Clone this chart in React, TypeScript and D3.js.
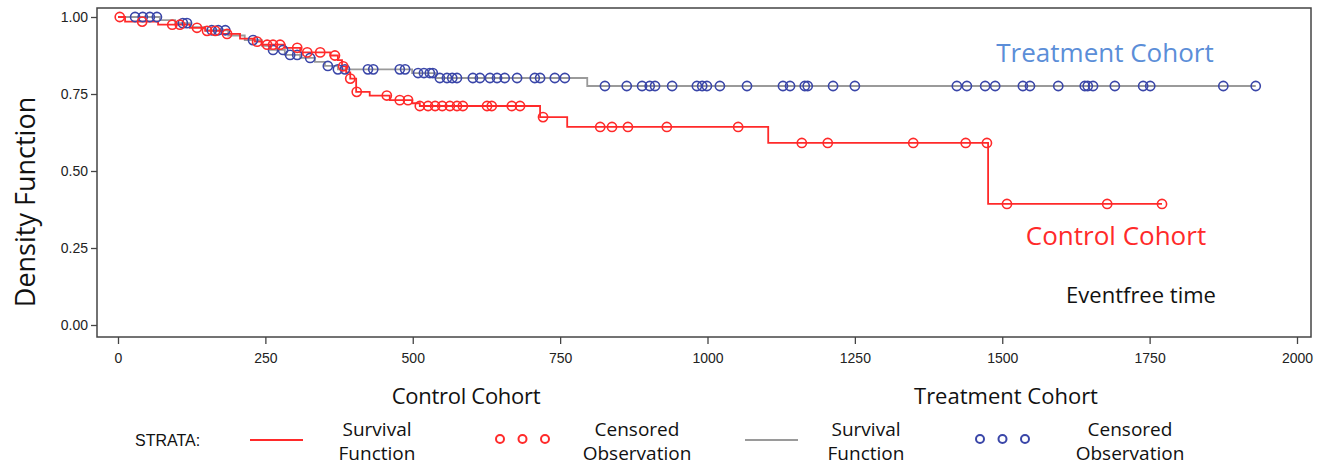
import React, { useEffect, useRef } from 'react';
import * as d3 from 'd3';

// Kaplan-Meier step points: [time, survival after the event]
const controlSteps: [number, number][] = [
  [0, 1.0], [12, 0.985], [68, 0.975], [122, 0.965], [148, 0.955], [176, 0.945],
  [207, 0.93], [232, 0.92], [244, 0.91], [283, 0.9], [309, 0.885], [360, 0.875],
  [373, 0.86], [380, 0.84], [387, 0.82], [394, 0.8], [404, 0.757], [427, 0.745],
  [461, 0.73], [499, 0.72], [512, 0.711], [716, 0.675], [762, 0.643],
  [1103, 0.591], [1476, 0.393],
];
const controlEnd = 1771;
const controlCensored = [
  3, 41, 92, 105, 134, 151, 165, 185, 236, 253, 263, 275, 304, 321, 343, 368, 382,
  394, 405, 456, 478, 492, 512, 526, 538, 550, 563, 575, 585, 626, 634, 668, 682,
  721, 818, 838, 865, 931, 1052, 1160, 1204, 1349, 1438, 1474, 1508, 1678, 1771,
];

const treatmentSteps: [number, number][] = [
  [0, 1.0], [71, 0.99], [97, 0.98], [122, 0.967], [148, 0.957], [187, 0.94],
  [215, 0.925], [244, 0.906], [258, 0.893], [283, 0.877], [309, 0.867],
  [334, 0.854], [351, 0.841], [373, 0.83], [499, 0.818], [539, 0.802], [796, 0.776],
];
const treatmentEnd = 1930;
const treatmentCensored = [
  29, 42, 54, 66, 110, 117, 159, 170, 182, 229, 263, 280, 292, 304, 326, 356, 373,
  385, 424, 433, 478, 487, 509, 519, 529, 534, 546, 558, 567, 575, 602, 614, 631,
  643, 656, 677, 707, 716, 741, 758, 826, 863, 889, 902, 911, 940, 982, 991, 999,
  1021, 1067, 1128, 1140, 1165, 1170, 1213, 1250, 1423, 1440, 1471, 1488, 1535,
  1547, 1595, 1640, 1645, 1654, 1691, 1739, 1751, 1875, 1930,
];

const xTicks = [0, 250, 500, 750, 1000, 1250, 1500, 1750, 2000];
const yTicks = [0, 0.25, 0.5, 0.75, 1.0];

const RED = '#ff2a2a';
const GRAY = '#9a9a9a';
const BLUE = '#3a46a8';
const LABEL_BLUE = '#5b8ed8';

function survivalAt(steps: [number, number][], t: number) {
  let s = steps[0][1];
  for (const [time, v] of steps) {
    if (time <= t) s = v;
  }
  return s;
}

function App() {
  const ref = useRef<SVGSVGElement>(null);

  useEffect(() => {
    const svg = d3.select(ref.current);
    svg.selectAll('*').remove();
    const width = 1325;
    const height = 467;
    const frame = { left: 97, right: 1311, top: 8, bottom: 337 };

    const x = d3.scaleLinear().domain([0, 2000]).range([118, 1297]);
    const y = d3.scaleLinear().domain([0, 1]).range([325, 17]);

    svg.append('rect').attr('width', width).attr('height', height).attr('fill', '#fff');

    // frame
    svg
      .append('rect')
      .attr('x', frame.left)
      .attr('y', frame.top)
      .attr('width', frame.right - frame.left)
      .attr('height', frame.bottom - frame.top)
      .attr('fill', 'none')
      .attr('stroke', '#444')
      .attr('stroke-width', 1.5);

    const tickFont = "'Liberation Sans Narrow', 'Liberation Sans', Arial, sans-serif";

    // y axis
    svg
      .append('g')
      .attr('transform', `translate(${frame.left},0)`)
      .call(
        d3
          .axisLeft(y)
          .tickValues(yTicks)
          .tickSize(6)
          .tickSizeOuter(0)
          .tickFormat(d3.format('.2f')),
      )
      .call(g => g.select('.domain').remove())
      .call(g => g.selectAll('line').attr('stroke', '#444').attr('stroke-width', 1.3))
      .call(g =>
        g
          .selectAll('text')
          .attr('font-family', tickFont)
          .attr('font-size', 14)
          .attr('fill', '#222'),
      );

    // x axis
    svg
      .append('g')
      .attr('transform', `translate(0,${frame.bottom})`)
      .call(
        d3
          .axisBottom(x)
          .tickValues(xTicks)
          .tickSize(7)
          .tickSizeOuter(0)
          .tickPadding(9)
          .tickFormat(d3.format('d')),
      )
      .call(g => g.select('.domain').remove())
      .call(g => g.selectAll('line').attr('stroke', '#444').attr('stroke-width', 1.3))
      .call(g =>
        g
          .selectAll('text')
          .attr('font-family', tickFont)
          .attr('font-size', 14)
          .attr('fill', '#222'),
      );

    const line = d3
      .line<[number, number]>()
      .x(d => x(d[0]))
      .y(d => y(d[1]))
      .curve(d3.curveStepAfter);

    const treatPts: [number, number][] = [
      ...treatmentSteps,
      [treatmentEnd, treatmentSteps[treatmentSteps.length - 1][1]],
    ];
    const ctrlPts: [number, number][] = [
      ...controlSteps,
      [controlEnd, controlSteps[controlSteps.length - 1][1]],
    ];

    svg
      .append('path')
      .datum(treatPts)
      .attr('fill', 'none')
      .attr('stroke', GRAY)
      .attr('stroke-width', 1.8)
      .attr('d', line);

    svg
      .append('path')
      .datum(ctrlPts)
      .attr('fill', 'none')
      .attr('stroke', RED)
      .attr('stroke-width', 1.8)
      .attr('d', line);

    svg
      .append('g')
      .selectAll('circle')
      .data(treatmentCensored)
      .join('circle')
      .attr('cx', d => x(d))
      .attr('cy', d => y(survivalAt(treatmentSteps, d)))
      .attr('r', 4.6)
      .attr('fill', 'none')
      .attr('stroke', BLUE)
      .attr('stroke-width', 1.6);

    svg
      .append('g')
      .selectAll('circle')
      .data(controlCensored)
      .join('circle')
      .attr('cx', d => x(d))
      .attr('cy', d => y(survivalAt(controlSteps, d)))
      .attr('r', 4.6)
      .attr('fill', 'none')
      .attr('stroke', RED)
      .attr('stroke-width', 1.6);

    const labelFont = "'Open Sans', 'Noto Sans', sans-serif";

    svg
      .append('text')
      .attr('transform', 'translate(35,202) rotate(-90)')
      .attr('text-anchor', 'middle')
      .attr('font-family', labelFont)
      .attr('font-size', 27)
      .attr('fill', '#111')
      .text('Density Function');

    svg
      .append('text')
      .attr('x', 1105)
      .attr('y', 62)
      .attr('text-anchor', 'middle')
      .attr('font-family', labelFont)
      .attr('font-size', 26)
      .attr('fill', LABEL_BLUE)
      .text('Treatment Cohort');

    svg
      .append('text')
      .attr('x', 1116)
      .attr('y', 245)
      .attr('text-anchor', 'middle')
      .attr('font-family', labelFont)
      .attr('font-size', 26)
      .attr('fill', RED)
      .text('Control Cohort');

    svg
      .append('text')
      .attr('x', 1141)
      .attr('y', 303)
      .attr('text-anchor', 'middle')
      .attr('font-family', labelFont)
      .attr('font-size', 22)
      .attr('fill', '#111')
      .text('Eventfree time');

    svg
      .append('text')
      .attr('x', 466)
      .attr('y', 404)
      .attr('text-anchor', 'middle')
      .attr('font-family', labelFont)
      .attr('font-size', 22)
      .attr('letter-spacing', -0.3)
      .attr('fill', '#111')
      .text('Control Cohort');

    svg
      .append('text')
      .attr('x', 1006)
      .attr('y', 404)
      .attr('text-anchor', 'middle')
      .attr('font-family', labelFont)
      .attr('font-size', 22)
      .attr('fill', '#111')
      .text('Treatment Cohort');

    // legend
    const legendY = 440;
    svg
      .append('text')
      .attr('x', 135)
      .attr('y', legendY + 6)
      .attr('font-family', tickFont)
      .attr('font-size', 16)
      .attr('fill', '#111')
      .text('STRATA:');

    const groups = [
      { lineX: 250, lineColor: RED, survX: 377, dotsX: 500, dotColor: RED, censX: 637 },
      { lineX: 745, lineColor: GRAY, survX: 866, dotsX: 980, dotColor: BLUE, censX: 1130 },
    ];
    groups.forEach(g => {
      svg
        .append('line')
        .attr('x1', g.lineX)
        .attr('x2', g.lineX + 53)
        .attr('y1', legendY)
        .attr('y2', legendY)
        .attr('stroke', g.lineColor)
        .attr('stroke-width', 2);
      [0, 1, 2].forEach(i => {
        svg
          .append('circle')
          .attr('cx', g.dotsX + i * 22.5)
          .attr('cy', legendY - 1)
          .attr('r', 4)
          .attr('fill', 'none')
          .attr('stroke', g.dotColor)
          .attr('stroke-width', 2);
      });
      [
        { cx: g.survX, lines: ['Survival', 'Function'] },
        { cx: g.censX, lines: ['Censored', 'Observation'] },
      ].forEach(lbl => {
        lbl.lines.forEach((t, i) => {
          svg
            .append('text')
            .attr('x', lbl.cx)
            .attr('y', 436 + i * 24)
            .attr('text-anchor', 'middle')
            .attr('font-family', labelFont)
            .attr('font-size', 19)
            .attr('fill', '#111')
            .text(t);
        });
      });
    });
  }, []);

  return (
    <svg
      ref={ref}
      width={1325}
      height={467}
      style={{ position: 'absolute', left: 0, top: 0, display: 'block' }}
    />
  );
}

export default App;
